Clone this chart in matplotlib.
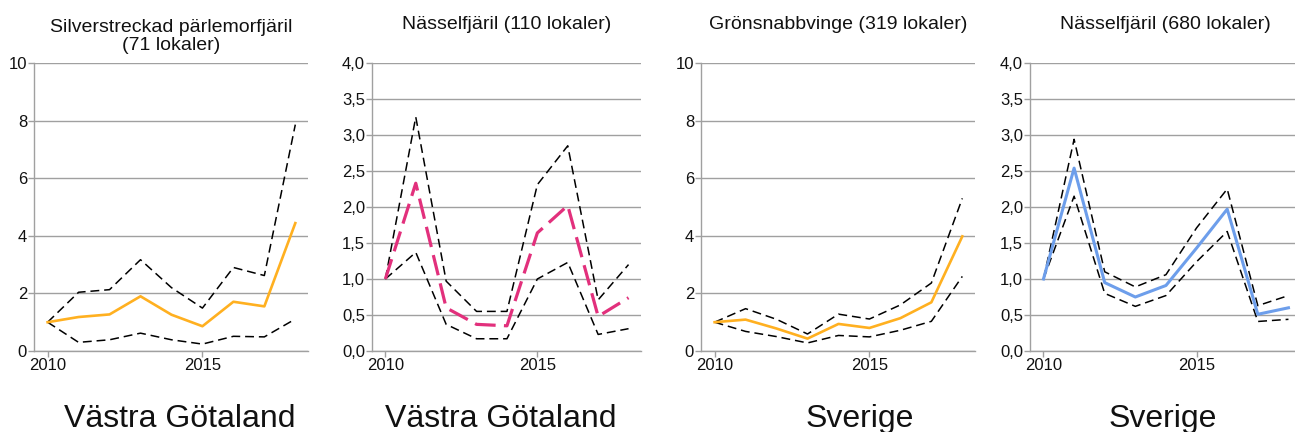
import matplotlib
matplotlib.use("Agg")
import matplotlib.pyplot as plt

plt.rcParams['font.family'] = ['Liberation Sans', 'DejaVu Sans']

years = [2010, 2011, 2012, 2013, 2014, 2015, 2016, 2017, 2018]

# Panel 1: Silverstreckad pärlemorfjäril, Västra Götaland
p1_mid = [1.0, 1.18, 1.27, 1.90, 1.26, 0.86, 1.71, 1.55, 4.44]
p1_hi = [1.0, 2.04, 2.13, 3.17, 2.20, 1.49, 2.90, 2.62, 7.86]
p1_lo = [1.0, 0.30, 0.39, 0.62, 0.39, 0.24, 0.51, 0.49, 1.11]

# Panel 2: Nässelfjäril, Västra Götaland
p2_mid = [1.0, 2.33, 0.60, 0.37, 0.35, 1.64, 2.02, 0.48, 0.74]
p2_hi = [1.0, 3.25, 0.97, 0.55, 0.55, 2.31, 2.85, 0.71, 1.20]
p2_lo = [1.0, 1.37, 0.37, 0.17, 0.17, 1.00, 1.23, 0.23, 0.31]

# Panel 3: Grönsnabbvinge, Sverige
p3_mid = [1.0, 1.09, 0.78, 0.43, 0.94, 0.80, 1.14, 1.69, 3.98]
p3_hi = [1.0, 1.47, 1.10, 0.59, 1.28, 1.11, 1.60, 2.36, 5.30]
p3_lo = [1.0, 0.68, 0.50, 0.28, 0.54, 0.49, 0.72, 1.03, 2.59]

# Panel 4: Nässelfjäril, Sverige
p4_mid = [1.0, 2.54, 0.95, 0.75, 0.91, 1.43, 1.97, 0.51, 0.60]
p4_hi = [1.0, 2.94, 1.10, 0.89, 1.06, 1.71, 2.25, 0.63, 0.77]
p4_lo = [1.0, 2.15, 0.80, 0.62, 0.77, 1.24, 1.66, 0.41, 0.44]

titles = ["Silverstreckad pärlemorfjäril\n(71 lokaler)",
          "Nässelfjäril (110 lokaler)",
          "Grönsnabbvinge (319 lokaler)",
          "Nässelfjäril (680 lokaler)"]
regions = ["Västra Götaland", "Västra Götaland", "Sverige", "Sverige"]

yticks_10 = [0, 2, 4, 6, 8, 10]
yticklabels_10 = ["0", "2", "4", "6", "8", "10"]
yticks_4 = [0.0, 0.5, 1.0, 1.5, 2.0, 2.5, 3.0, 3.5, 4.0]
yticklabels_4 = ["0,0", "0,5", "1,0", "1,5", "2,0", "2,5", "3,0", "3,5", "4,0"]
xticks = [2010, 2015]
xticklabels = ["2010", "2015"]

W, H = 1295, 432
fig = plt.figure(figsize=(W / 100, H / 100), dpi=100)

layout = [(34, 308), (372, 641), (701, 975), (1030, 1301)]
top_px, bot_px = 63, 351
xmin, xmax = 2009.56, 2018.41

panels = [
    (p1_mid, p1_hi, p1_lo, '#FFB020', 'solid', 10, yticks_10, yticklabels_10),
    (p2_mid, p2_hi, p2_lo, '#E2307C', 'pink', 4, yticks_4, yticklabels_4),
    (p3_mid, p3_hi, p3_lo, '#FFB020', 'solid', 10, yticks_10, yticklabels_10),
    (p4_mid, p4_hi, p4_lo, '#6D9EEB', 'blue', 4, yticks_4, yticklabels_4),
]

grid_c = '#a0a0a0'
for i, ((l, r), (mid, hi, lo, col, kind, ymax, yt, ytl)) in enumerate(zip(layout, panels)):
    ax = fig.add_axes([l / W, (H - bot_px) / H, (r - l) / W, (bot_px - top_px) / H])
    ax.set_xlim(xmin, xmax)
    ax.set_ylim(0, ymax)
    ax.set_yticks(yt)
    ax.set_yticklabels(ytl)
    ax.set_xticks(xticks)
    ax.set_xticklabels(xticklabels)
    ax.grid(axis='y', color=grid_c, lw=1.0)
    ax.set_axisbelow(True)
    for s in ['top', 'right']:
        ax.spines[s].set_visible(False)
    for s in ['left', 'bottom']:
        ax.spines[s].set_color(grid_c)
        ax.spines[s].set_linewidth(1.0)
    ax.tick_params(axis='both', colors=grid_c, labelcolor='#111111',
                   labelsize=12, length=4, width=1.0, pad=1)
    ax.plot(years, hi, color='black', lw=1.1, linestyle=(0, (5.8, 3.2)))
    ax.plot(years, lo, color='black', lw=1.1, linestyle=(0, (5.8, 3.2)))
    if kind == 'pink':
        ax.plot(years, mid, color=col, lw=2.3, linestyle=(0, (6.5, 2.6)))
    elif kind == 'blue':
        ax.plot(years, mid, color=col, lw=2.2)
    else:
        ax.plot(years, mid, color=col, lw=1.9)
    cx = (l + r) / 2 / W
    if '\n' in titles[i]:
        fig.text(cx, 1 - 50 / H, titles[i], ha='center', va='baseline',
                 fontsize=14, color='#111111', linespacing=1.1)
    else:
        fig.text(cx, 1 - 29 / H, titles[i], ha='center', va='baseline',
                 fontsize=14, color='#111111')

region_x = [180, 501, 860, 1163]
for rx, txt in zip(region_x, regions):
    fig.text(rx / W, 1 - 427 / H, txt, ha='center', va='baseline',
             fontsize=23, color='#111111')

fig.savefig('out.png', dpi=100)
